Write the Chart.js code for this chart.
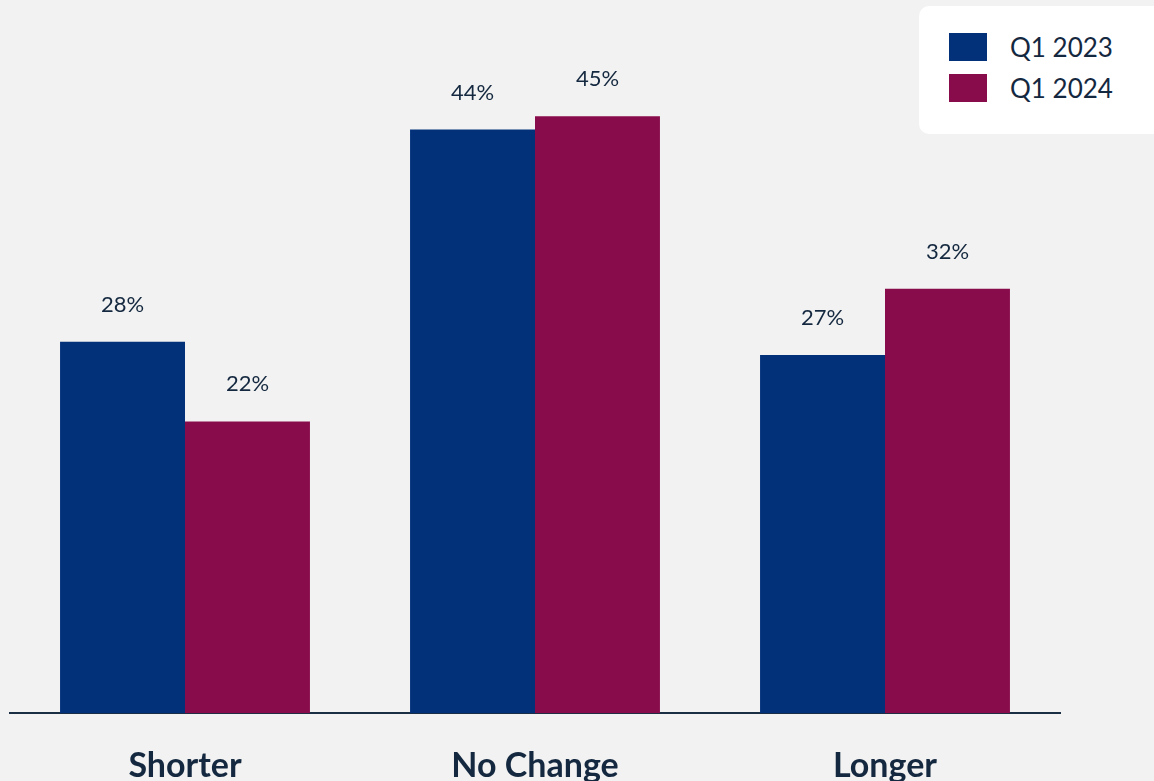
<!DOCTYPE html>
<html>
<head>
<meta charset="utf-8">
<title>Q1 2023 vs Q1 2024</title>
<script src="https://cdn.jsdelivr.net/npm/chart.js@4"></script>
<style>
    body {
        margin: 0;
        background: #f2f2f2;
        font-family: Lato, sans-serif;
    }
    .wrap {
        position: relative;
        width: 1154px;
        height: 781px;
        overflow: hidden;
    }
    .legend {
        position: absolute;
        left: 919px;
        top: 6px;
        width: 260px;
        height: 128px;
        background: #ffffff;
        border-radius: 10px;
    }
    .legend-item {
        position: absolute;
        left: 30px;
        display: flex;
        align-items: center;
        font-size: 26px;
        color: #14283f;
    }
    .legend-item span.swatch {
        width: 38px;
        height: 28px;
        margin-right: 23px;
    }
</style>
</head>
<body>
<div class="wrap">
    <canvas id="barChart" width="1154" height="781"></canvas>
    <div class="legend" id="legend"></div>
</div>
<script>
const categories = ['Shorter', 'No Change', 'Longer'];
const seriesNames = ['Q1 2023', 'Q1 2024'];
const q1_2023 = [28, 44, 27];
const q1_2024 = [22, 45, 32];
const seriesColors = ['#02317a', '#880c4b'];

const textColor = '#14283f';

// Percent labels above every bar
const barLabels = {
    id: 'barLabels',
    afterDatasetsDraw(chart) {
        const ctx = chart.ctx;
        ctx.save();
        ctx.font = '22px Lato';
        ctx.fillStyle = textColor;
        ctx.textAlign = 'center';
        ctx.textBaseline = 'middle';
        chart.data.datasets.forEach((ds, i) => {
            chart.getDatasetMeta(i).data.forEach((bar, j) => {
                ctx.fillText(ds.data[j] + '%', bar.x, bar.y - 37);
            });
        });
        ctx.restore();
    }
};

const ctx = document.getElementById('barChart').getContext('2d');
new Chart(ctx, {
    type: 'bar',
    data: {
        labels: categories,
        datasets: [{
            label: seriesNames[0],
            data: q1_2023,
            backgroundColor: seriesColors[0]
        }, {
            label: seriesNames[1],
            data: q1_2024,
            backgroundColor: seriesColors[1]
        }]
    },
    options: {
        responsive: false,
        animation: false,
        categoryPercentage: 0.714,
        barPercentage: 1.0,
        layout: {
            padding: { left: 10, right: 94, top: 50, bottom: -29 }
        },
        plugins: {
            legend: { display: false },
            tooltip: { enabled: false }
        },
        scales: {
            x: {
                grid: { display: false },
                border: { display: true, color: '#1b2f44', width: 2 },
                ticks: {
                    color: textColor,
                    padding: 24,
                    font: { family: 'Lato', size: 34, weight: 'bold' }
                }
            },
            y: {
                display: false,
                min: 0,
                max: 50
            }
        }
    },
    plugins: [barLabels]
});

// Legend box in the top right corner
const legend = document.getElementById('legend');
seriesNames.forEach((name, i) => {
    const item = document.createElement('div');
    item.className = 'legend-item';
    item.style.top = (25 + i * 41) + 'px';
    item.innerHTML = `<span class="swatch" style="background:${seriesColors[i]}"></span>${name}`;
    legend.appendChild(item);
});
</script>
</body>
</html>
